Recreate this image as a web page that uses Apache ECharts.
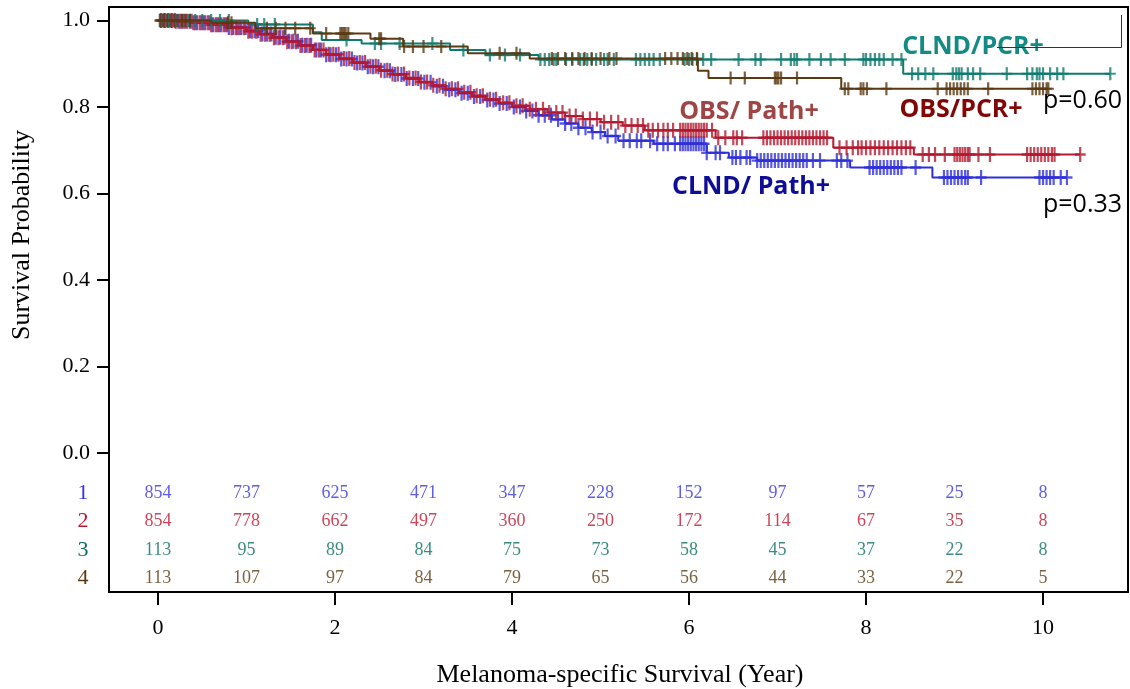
<!DOCTYPE html>
<html>
<head>
<meta charset="utf-8">
<script src="https://cdn.jsdelivr.net/npm/echarts@6/dist/echarts.min.js"></script>
<style>
html,body{margin:0;padding:0;background:#fff;}
#main{width:1130px;height:689px;}
</style>
</head>
<body>
<div id="main"></div>
<script>
// ---------------- DATA ----------------
const riskYears = [0,1,2,3,4,5,6,7,8,9,10];
const riskClndPath = [854,737,625,471,347,228,152,97,57,25,8];
const riskObsPath  = [854,778,662,497,360,250,172,114,67,35,8];
const riskClndPcr  = [113,95,89,84,75,73,58,45,37,22,8];
const riskObsPcr   = [113,107,97,84,79,65,56,44,33,22,5];
const rowLabels = ['1','2','3','4'];

const xTickValues = [0,2,4,6,8,10];
const yTickValues = [0,0.2,0.4,0.6,0.8,1.0];

// Kaplan-Meier steps: [time (years), survival after step]
const stepClndPath = [[0,1],[0.2,0.998],[0.4,0.995],[0.6,0.99],[0.8,0.984],[1.0,0.976],[1.15,0.969],[1.3,0.961],[1.45,0.952],[1.6,0.943],[1.75,0.932],[1.9,0.921],[2.05,0.911],[2.2,0.902],[2.35,0.893],[2.5,0.884],[2.65,0.875],[2.8,0.866],[2.95,0.857],[3.1,0.848],[3.25,0.84],[3.4,0.832],[3.55,0.824],[3.7,0.816],[3.85,0.808],[4.0,0.8],[4.15,0.791],[4.3,0.781],[4.45,0.771],[4.6,0.762],[4.75,0.752],[4.9,0.742],[5.05,0.733],[5.2,0.722],[5.6,0.715],[6.2,0.694],[6.45,0.683],[6.77,0.676],[7.82,0.66],[8.75,0.637],[10.27,0.637]];
const stepObsPath = [[0,1],[0.2,0.998],[0.4,0.995],[0.6,0.99],[0.8,0.983],[1.0,0.975],[1.15,0.968],[1.3,0.96],[1.45,0.951],[1.6,0.942],[1.75,0.932],[1.9,0.922],[2.05,0.912],[2.2,0.903],[2.35,0.894],[2.5,0.885],[2.65,0.876],[2.8,0.867],[2.95,0.858],[3.1,0.85],[3.25,0.842],[3.4,0.834],[3.55,0.826],[3.7,0.818],[3.85,0.81],[4.0,0.803],[4.2,0.795],[4.4,0.787],[4.6,0.779],[4.8,0.772],[5.0,0.765],[5.25,0.757],[5.5,0.746],[6.3,0.729],[7.63,0.706],[8.54,0.69],[10.42,0.69]];
const stepClndPcr = [[0,1],[1.02,0.991],[1.75,0.973],[1.85,0.955],[2.3,0.947],[3.3,0.932],[3.7,0.92],[4.3,0.91],[8.42,0.877],[10.76,0.877]];
const stepObsPcr = [[0,1],[0.6,0.995],[1.1,0.982],[1.75,0.97],[2.4,0.958],[2.77,0.94],[3.5,0.924],[4.2,0.912],[6.1,0.884],[6.22,0.867],[7.72,0.842],[10.06,0.842]];

// Censoring times (years)
const censorClndPath = [0.03,0.07,0.11,0.15,0.19,0.23,0.27,0.31,0.36,0.4,0.44,0.49,0.53,0.58,0.62,0.67,0.71,0.76,0.8,0.85,0.9,0.94,0.99,1.04,1.09,1.13,1.18,1.23,1.28,1.33,1.38,1.43,1.48,1.53,1.58,1.63,1.68,1.73,1.79,1.84,1.9,1.95,2.01,2.07,2.13,2.19,2.25,2.31,2.37,2.43,2.49,2.56,2.62,2.68,2.75,2.81,2.88,2.94,3.01,3.08,3.15,3.22,3.29,3.36,3.43,3.5,3.57,3.64,3.72,3.79,3.86,3.94,4.02,4.09,4.16,4.23,4.3,4.37,4.44,4.52,4.6,4.67,4.75,4.83,4.91,5.0,5.08,5.17,5.26,5.33,5.41,5.46,5.56,5.64,5.71,5.76,5.84,5.9,5.93,5.96,5.99,6.02,6.05,6.08,6.11,6.14,6.17,6.2,6.3,6.35,6.49,6.53,6.58,6.65,6.69,6.77,6.81,6.85,6.89,6.93,6.97,7.01,7.05,7.09,7.13,7.17,7.21,7.25,7.29,7.33,7.4,7.48,7.67,7.72,7.79,8.04,8.08,8.12,8.16,8.2,8.24,8.28,8.32,8.36,8.4,8.56,8.88,8.92,8.96,9.0,9.04,9.08,9.12,9.15,9.3,9.96,10.0,10.04,10.08,10.12,10.2,10.27];
const censorObsPath = [0.04,0.08,0.12,0.16,0.2,0.25,0.29,0.33,0.38,0.42,0.47,0.51,0.56,0.6,0.65,0.69,0.74,0.78,0.83,0.88,0.92,0.97,1.02,1.06,1.11,1.16,1.21,1.26,1.31,1.36,1.41,1.46,1.51,1.56,1.61,1.66,1.71,1.77,1.82,1.87,1.93,1.98,2.04,2.1,2.16,2.22,2.28,2.34,2.4,2.46,2.52,2.59,2.65,2.71,2.78,2.84,2.91,2.97,3.04,3.11,3.18,3.25,3.32,3.39,3.46,3.53,3.6,3.67,3.75,3.82,3.9,3.97,4.05,4.12,4.2,4.27,4.35,4.42,4.5,4.57,4.65,4.72,4.8,4.88,4.96,5.04,5.12,5.2,5.28,5.35,5.42,5.48,5.54,5.59,5.65,5.71,5.76,5.82,5.9,5.93,5.96,5.99,6.02,6.05,6.08,6.11,6.14,6.17,6.2,6.26,6.33,6.41,6.5,6.54,6.6,6.84,6.88,6.92,6.96,7.0,7.04,7.08,7.12,7.16,7.2,7.24,7.28,7.32,7.36,7.4,7.44,7.48,7.52,7.56,7.7,7.78,7.85,7.91,7.95,8.0,8.05,8.1,8.15,8.2,8.25,8.3,8.35,8.4,8.45,8.5,8.64,8.71,8.78,8.89,9.0,9.03,9.06,9.09,9.12,9.15,9.17,9.27,9.4,9.82,9.86,9.9,9.94,9.98,10.02,10.06,10.1,10.13,10.42];
const censorClndPcr = [0.05,0.12,0.2,0.28,0.35,0.42,0.5,0.6,0.7,0.8,1.12,1.2,1.32,2.13,2.45,2.52,2.73,3.1,3.45,3.75,3.92,4.09,4.32,4.37,4.42,4.47,4.5,4.61,4.68,4.77,4.81,4.85,4.9,4.95,5.04,5.08,5.15,5.4,5.45,5.5,5.55,5.6,5.67,5.95,6.0,6.04,6.09,6.16,6.25,6.56,6.75,6.81,7.04,7.15,7.19,7.22,7.36,7.49,7.6,7.76,7.97,8.0,8.05,8.1,8.15,8.2,8.3,8.4,8.52,8.59,8.67,8.76,8.98,9.02,9.05,9.08,9.15,9.21,9.29,9.59,9.82,9.88,9.93,9.96,10.0,10.08,10.16,10.23,10.76];
const censorObsPcr = [0.02,0.06,0.1,0.14,0.18,0.22,0.27,0.31,0.36,0.79,0.83,1.23,1.33,1.44,1.55,1.72,1.9,2.06,2.08,2.1,2.12,2.15,2.5,2.52,2.78,2.88,3.0,3.2,3.86,4.05,4.45,4.52,4.6,4.68,4.75,4.82,4.9,5.0,5.1,5.18,5.73,5.8,5.87,5.93,5.98,6.03,6.09,6.47,6.63,6.97,6.99,7.01,7.04,7.22,7.76,7.8,7.94,7.97,8.01,8.23,8.81,8.91,8.95,8.99,9.03,9.07,9.11,9.15,9.38,9.88,9.92,9.96,10.0,10.04,10.06];

// ---------------- STYLE / LAYOUT ----------------
const C_BLUE = '#2f2fd8', C_RED = '#b3192f', C_TEAL = '#0f7a6e', C_BROWN = '#5a3a12';
const RISK_COLORS = ['#3434e6','#c0142e','#0b6e60','#5a3a10'];
const ROW_LEVELS = [-0.0925,-0.1572,-0.2243,-0.2890];
const SERIF = 'Liberation Serif';
const PLUS = 'path://M4.8,0H7.2V6.3H12V8.7H7.2V15H4.8V8.7H0V6.3H4.8Z';

function survAt(steps, t){
  let s = steps[0][1];
  for (const p of steps){ if (p[0] <= t) s = p[1]; else break; }
  return s;
}

function kmSeries(steps, censor, color, z, size){
  return [
    {type:'line', step:'end', data:steps, showSymbol:false, silent:true, z:z,
     lineStyle:{color:color, width:2}},
    {type:'scatter', data:censor.map(t=>[t, survAt(steps,t)]), symbol:PLUS,
     symbolSize:size, silent:true, z:z, itemStyle:{color:color}}
  ];
}

function riskSeries(values, row){
  return {type:'scatter', silent:true, symbolSize:0, z:5,
    data: riskYears.map((yr,i)=>[yr, ROW_LEVELS[row], values[i]]),
    label:{show:true, position:'inside', formatter:p=>String(p.data[2]),
      fontFamily:SERIF, fontSize:18, color:RISK_COLORS[row]}};
}

const chart = echarts.init(document.getElementById('main'), null, {renderer:'canvas'});

const graphics = [
  {type:'text', x:22, y:235, rotation:Math.PI/2, style:{text:'Survival Probability', font:'26px "Liberation Serif"', fill:'#000', align:'center', verticalAlign:'middle'}},
  {type:'text', x:620, y:675, style:{text:'Melanoma-specific Survival (Year)', font:'26px "Liberation Serif"', fill:'#000', align:'center', verticalAlign:'middle'}},
  {type:'text', x:973, y:47, z:20, style:{text:'CLND/PCR+', font:'bold 25px "Open Sans"', fill:'#148a84', align:'center', verticalAlign:'middle'}},
  {type:'text', x:749, y:112, z:20, style:{text:'OBS/ Path+', font:'bold 25px "Open Sans"', fill:'#a04545', align:'center', verticalAlign:'middle'}},
  {type:'text', x:961, y:110, z:20, style:{text:'OBS/PCR+', font:'bold 25px "Open Sans"', fill:'#820606', align:'center', verticalAlign:'middle'}},
  {type:'text', x:751, y:187, z:20, style:{text:'CLND/ Path+', font:'bold 25px "Open Sans"', fill:'#0d0d95', align:'center', verticalAlign:'middle'}},
  {type:'text', x:1043, y:101, z:20, style:{text:'p=0.60', font:'25px "Open Sans"', fill:'#000', align:'left', verticalAlign:'middle'}},
  {type:'text', x:1043, y:205, z:20, style:{text:'p=0.33', font:'25px "Open Sans"', fill:'#000', align:'left', verticalAlign:'middle'}},
  {type:'polyline', z:30, shape:{points:[[997,47.5],[1121.5,47.5],[1121.5,15]]}, style:{stroke:'#333', lineWidth:1, fill:null}}
];
rowLabels.forEach((t,i)=>{
  graphics.push({type:'text', x:83, y:[493,521,550,578][i], style:{text:t, font:'22px "Liberation Serif"', fill:RISK_COLORS[i], align:'center', verticalAlign:'middle'}});
});

const option = {
  animation:false,
  backgroundColor:'#fff',
  grid:{left:109, right:2, top:7, bottom:97, show:true, borderColor:'#000', borderWidth:2, backgroundColor:'transparent'},
  xAxis:{type:'value', min:-0.554, max:10.96, splitLine:{show:false},
    axisLine:{show:false, onZero:false},
    axisTick:{show:true, customValues:xTickValues, length:13, inside:false, lineStyle:{color:'#000', width:2}},
    axisLabel:{customValues:xTickValues, margin:25, fontFamily:SERIF, fontSize:22, color:'#000'}},
  yAxis:{type:'value', min:-0.3214, max:1.0312, splitLine:{show:false},
    axisLine:{show:false, onZero:false},
    axisTick:{show:true, customValues:yTickValues, length:12, inside:false, lineStyle:{color:'#000', width:2}},
    axisLabel:{customValues:yTickValues, margin:19, fontFamily:SERIF, fontSize:22, color:'#000', formatter:v=>v.toFixed(1)}},
  graphic:graphics,
  series:[].concat(
    kmSeries(stepClndPath, censorClndPath, C_BLUE, 2, [11,15]),
    kmSeries(stepObsPath, censorObsPath, C_RED, 3, [11,15]),
    kmSeries(stepClndPcr, censorClndPcr, C_TEAL, 3, [11,13]),
    kmSeries(stepObsPcr, censorObsPcr, C_BROWN, 4, [11,13]),
    [riskSeries(riskClndPath,0), riskSeries(riskObsPath,1), riskSeries(riskClndPcr,2), riskSeries(riskObsPcr,3)]
  )
};
chart.setOption(option);
</script>
</body>
</html>
